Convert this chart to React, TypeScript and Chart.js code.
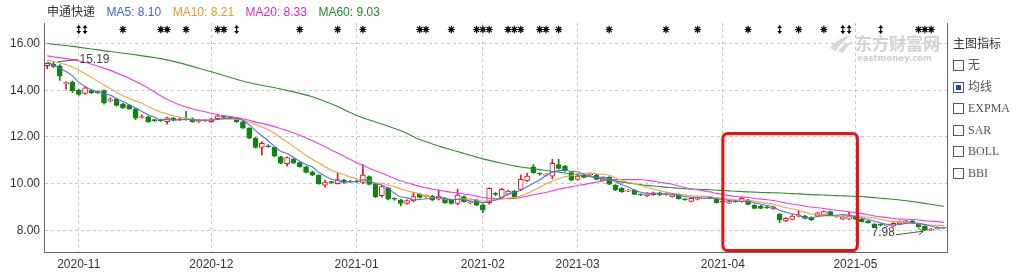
import React, { useEffect, useRef } from "react";
import { Chart, registerables } from "chart.js";

Chart.register(...registerables);

// ---------------- data ----------------
const stockName = "申通快递";
const monthKeys = ["2020-10", "2020-11", "2020-12", "2021-01", "2021-02", "2021-03", "2021-04", "2021-05"];
const monthDays = [
  [26, 27, 28, 29, 30],
  [2, 3, 4, 5, 6, 9, 10, 11, 12, 13, 16, 17, 18, 19, 20, 23, 24, 25, 26, 27, 30],
  [1, 2, 3, 4, 7, 8, 9, 10, 11, 14, 15, 16, 17, 18, 21, 22, 23, 24, 25, 28, 29, 30, 31],
  [4, 5, 6, 7, 8, 11, 12, 13, 14, 15, 18, 19, 20, 21, 22, 25, 26, 27, 28, 29],
  [1, 2, 3, 4, 5, 8, 9, 10, 18, 19, 22, 23, 24, 25, 26],
  [1, 2, 3, 4, 5, 8, 9, 10, 11, 12, 15, 16, 17, 18, 19, 22, 23, 24, 25, 26, 29, 30, 31],
  [1, 2, 6, 7, 8, 9, 12, 13, 14, 15, 16, 19, 20, 21, 22, 23, 26, 27, 28, 29, 30],
  [6, 7, 10, 11, 12, 13, 14, 17, 18, 19, 20, 21, 24, 25, 26],
];
const monthTickLabels = ["2020-11", "2020-12", "2021-01", "2021-02", "2021-03", "2021-04", "2021-05"];

const opens = [
  15.05, 15.12, 15.05, 14.28, 14.35, 14.0, 13.86, 13.98, 13.94, 13.98, 13.55, 13.62, 13.4, 13.35, 13.2, 12.83, 12.86, 12.72, 12.72, 12.65,
  12.8, 12.73, 12.77, 12.78, 12.66, 12.69, 12.65, 12.78, 12.89, 12.86, 12.8, 12.65, 12.38, 11.95, 11.55, 11.62, 11.55, 11.15, 10.85, 11.05,
  10.9, 10.72, 10.5, 10.36, 9.93, 10.07, 10.0, 10.15, 10.07, 10.1, 10.05, 10.3, 9.97, 9.48, 9.8, 9.36, 9.3, 9.15, 9.26, 9.54,
  9.45, 9.47, 9.33, 9.37, 9.3, 9.15, 9.44, 9.17, 9.3, 9.08, 9.18, 9.58, 9.41, 9.55, 9.68, 9.75, 10.12, 10.72, 10.42, 10.36,
  10.32, 10.82, 10.75, 10.47, 10.18, 10.37, 10.38, 10.37, 10.12, 10.27, 9.94, 9.8, 9.68, 9.72, 9.53, 9.47, 9.53, 9.61, 9.53, 9.44,
  9.52, 9.33, 9.24, 9.33, 9.39, 9.4, 9.33, 9.22, 9.16, 9.25, 9.23, 9.3, 9.08, 9.04, 8.99, 8.92, 8.68, 8.4, 8.47, 8.6,
  8.61, 8.55, 8.61, 8.65, 8.8, 8.6, 8.48, 8.48, 8.58, 8.48, 8.4, 8.27, 8.24, 8.19, 8.18, 8.27, 8.3, 8.4, 8.27, 8.18,
  8.0, 8.06, 8.1,
];
const highs = [
  15.16, 15.19, 15.1, 14.36, 14.4, 14.05, 14.14, 14.02, 13.98, 14.02, 13.68, 13.66, 13.44, 13.38, 13.24, 12.95, 12.9, 12.76, 12.76, 12.85,
  12.84, 12.8, 13.1, 12.82, 12.76, 12.74, 12.8, 12.95, 12.92, 12.88, 12.84, 12.68, 12.4, 11.98, 11.8, 11.66, 11.58, 11.18, 11.15, 11.08,
  10.93, 10.75, 10.54, 10.38, 10.14, 10.1, 10.46, 10.18, 10.14, 10.14, 10.8, 10.33, 10.0, 9.92, 9.84, 9.4, 9.33, 9.3, 9.61, 9.58,
  9.52, 9.5, 9.73, 9.4, 9.33, 9.76, 9.48, 9.24, 9.33, 9.12, 9.82, 9.62, 9.8, 9.72, 9.72, 10.37, 10.44, 10.82, 10.46, 10.42,
  11.04, 11.04, 10.78, 10.5, 10.36, 10.4, 10.45, 10.4, 10.25, 10.3, 9.96, 9.83, 9.75, 9.75, 9.56, 9.6, 9.64, 9.64, 9.6, 9.54,
  9.55, 9.36, 9.4, 9.43, 9.45, 9.44, 9.35, 9.26, 9.27, 9.28, 9.4, 9.33, 9.1, 9.07, 9.02, 9.04, 8.72, 8.54, 8.66, 8.87,
  8.64, 8.58, 8.78, 8.83, 8.82, 8.63, 8.61, 8.77, 8.62, 8.5, 8.42, 8.29, 8.27, 8.24, 8.33, 8.4, 8.43, 8.42, 8.29, 8.2,
  8.08, 8.14, 8.14,
];
const lows = [
  14.92, 14.98, 14.42, 14.05, 13.9, 13.78, 13.82, 13.86, 13.86, 13.4, 13.5, 13.32, 13.22, 13.18, 12.74, 12.8, 12.62, 12.66, 12.66, 12.55,
  12.68, 12.7, 12.72, 12.62, 12.62, 12.66, 12.62, 12.76, 12.8, 12.78, 12.62, 12.36, 11.92, 11.52, 11.22, 11.56, 11.15, 10.85, 10.75, 10.86,
  10.7, 10.46, 10.34, 9.97, 9.85, 10.0, 9.98, 10.01, 10.05, 10.04, 10.0, 9.95, 9.4, 9.42, 9.3, 9.28, 9.04, 9.12, 9.22, 9.38,
  9.42, 9.27, 9.3, 9.15, 9.12, 9.1, 9.2, 9.14, 9.05, 8.76, 9.12, 9.48, 9.38, 9.52, 9.38, 9.7, 10.08, 10.44, 10.36, 10.32,
  10.2, 10.62, 10.52, 10.12, 10.15, 10.24, 10.35, 10.16, 10.1, 9.95, 9.7, 9.62, 9.65, 9.52, 9.48, 9.45, 9.5, 9.48, 9.5, 9.42,
  9.33, 9.28, 9.22, 9.3, 9.36, 9.35, 9.16, 9.17, 9.14, 9.2, 9.2, 9.09, 8.92, 8.92, 8.94, 8.9, 8.33, 8.37, 8.45, 8.57,
  8.49, 8.42, 8.58, 8.62, 8.63, 8.55, 8.46, 8.45, 8.46, 8.35, 8.31, 8.11, 8.19, 8.16, 8.16, 8.25, 8.28, 8.28, 8.13, 7.98,
  7.99, 8.04, 8.07,
];
const closes = [
  15.15, 15.02, 14.6, 14.32, 13.98, 13.82, 14.1, 13.88, 13.9, 13.47, 13.6, 13.35, 13.25, 13.2, 12.8, 12.86, 12.65, 12.7, 12.7, 12.82,
  12.72, 12.76, 12.74, 12.65, 12.72, 12.71, 12.77, 12.9, 12.83, 12.8, 12.65, 12.38, 11.95, 11.55, 11.72, 11.58, 11.18, 10.87, 11.12, 10.88,
  10.72, 10.48, 10.36, 10.0, 10.07, 10.04, 10.17, 10.05, 10.1, 10.07, 10.37, 9.97, 9.44, 9.87, 9.33, 9.33, 9.15, 9.27, 9.44, 9.41,
  9.48, 9.3, 9.47, 9.18, 9.15, 9.51, 9.23, 9.2, 9.08, 8.87, 9.8, 9.54, 9.75, 9.68, 9.41, 10.18, 10.32, 10.47, 10.4, 10.39,
  10.87, 10.65, 10.55, 10.15, 10.32, 10.27, 10.41, 10.18, 10.2, 9.98, 9.72, 9.65, 9.71, 9.54, 9.51, 9.56, 9.6, 9.51, 9.56, 9.51,
  9.35, 9.31, 9.37, 9.41, 9.42, 9.38, 9.18, 9.2, 9.23, 9.23, 9.37, 9.11, 8.94, 8.94, 8.96, 9.01, 8.44, 8.51, 8.61, 8.65,
  8.51, 8.44, 8.75, 8.8, 8.65, 8.58, 8.58, 8.61, 8.48, 8.37, 8.33, 8.13, 8.22, 8.21, 8.3, 8.37, 8.4, 8.3, 8.15, 8.01,
  8.05, 8.12, 8.12,
];

const ma5EarlyIdx = [0];
const ma5EarlyVal = [15.22];
const ma10EarlyIdx = [0, 4];
const ma10EarlyVal = [15.3, 15.0];
const ma20EarlyIdx = [0, 5, 10, 15];
const ma20EarlyVal = [15.47, 15.26, 14.85, 14.25];
const ma60EarlyIdx = [0, 4, 8, 13, 19, 26, 32, 37, 42, 46, 49, 53, 57];
const ma60EarlyVal = [16.0, 15.88, 15.73, 15.55, 15.3, 14.79, 14.32, 14.05, 13.72, 13.3, 12.92, 12.55, 12.15];

const maNames = ["MA5", "MA10", "MA20", "MA60"];
const maLegendValues = ["8.10", "8.21", "8.33", "9.03"];

// event markers on top row (candle index, kind: s = star, a = arrow)
const markerIdx = [5, 6, 12, 18, 19, 22, 27, 28, 30, 40, 46, 50, 59, 60, 64, 68, 69, 70, 73, 74, 75, 78, 79, 81, 89, 98, 103, 111, 116, 119, 123, 126, 127, 132, 138, 139, 140];
const markerKind = ["a", "a", "s", "s", "s", "s", "s", "s", "a", "s", "s", "s", "s", "s", "s", "s", "s", "s", "s", "s", "s", "s", "s", "s", "s", "s", "s", "s", "a", "s", "s", "a", "a", "a", "s", "s", "s"];

const highlightFrom = "2021-04-01";
const highlightTo = "2021-05-06";
const highlightTop = 12.15;
const highlightBottom = 7.13;

const panelTitle = "主图指标";
const panelItems = ["无", "均线", "EXPMA", "SAR", "BOLL", "BBI"];
const panelChecked = "均线";

// ---------------- styles ----------------
const UP = "#e3171f";
const DOWN = "#11840f";
const MA_LINE_COLORS = ["#4f74e6", "#f0a43a", "#f03cf0", "#2f8f2f"];
const MA_TEXT_COLORS = ["#3d62dc", "#e79a22", "#e020e0", "#1e8c1e"];
const GRID = "#c8c8c8";
const AXIS = "#666";
const FONT = '"Liberation Sans", Arial, "Noto Sans CJK SC", sans-serif';

const dates: string[] = monthKeys.flatMap((m, k) => monthDays[k].map((d) => `${m}-${String(d).padStart(2, "0")}`));
const isMonthStart = (i: number) =>
  i >= 0 && i < dates.length && (i === 0 || dates[i].slice(0, 7) !== dates[i - 1].slice(0, 7)) && monthTickLabels.includes(dates[i].slice(0, 7));

function maSeries(period: number, earlyIdx: number[], earlyVal: number[]) {
  const pts: { x: string; y: number }[] = earlyIdx.map((i, k) => ({ x: dates[i], y: earlyVal[k] }));
  for (let i = period - 1; i < closes.length; i++) {
    let s = 0;
    for (let j = i - period + 1; j <= i; j++) s += closes[j];
    pts.push({ x: dates[i], y: s / period });
  }
  return pts;
}

function drawStar(ctx: CanvasRenderingContext2D, x: number, y: number) {
  ctx.save();
  ctx.strokeStyle = "#000";
  ctx.fillStyle = "#000";
  ctx.lineWidth = 1.2;
  ctx.beginPath();
  ctx.moveTo(x, y - 3.8);
  ctx.lineTo(x, y + 3.8);
  ctx.moveTo(x - 3.5, y);
  ctx.lineTo(x + 3.5, y);
  ctx.moveTo(x - 2.6, y - 2.6);
  ctx.lineTo(x + 2.6, y + 2.6);
  ctx.moveTo(x + 2.6, y - 2.6);
  ctx.lineTo(x - 2.6, y + 2.6);
  ctx.stroke();
  ctx.beginPath();
  ctx.arc(x, y, 1.9, 0, Math.PI * 2);
  ctx.fill();
  ctx.restore();
}

function drawArrowMark(ctx: CanvasRenderingContext2D, x: number, y: number) {
  ctx.save();
  ctx.strokeStyle = "#000";
  ctx.fillStyle = "#000";
  ctx.lineWidth = 1.2;
  ctx.beginPath();
  ctx.moveTo(x, y - 4);
  ctx.lineTo(x, y + 4);
  ctx.stroke();
  ctx.beginPath();
  ctx.moveTo(x - 2.5, y - 1.5);
  ctx.lineTo(x + 2.5, y - 1.5);
  ctx.lineTo(x, y - 4.2);
  ctx.closePath();
  ctx.fill();
  ctx.beginPath();
  ctx.moveTo(x - 2.5, y + 1.5);
  ctx.lineTo(x + 2.5, y + 1.5);
  ctx.lineTo(x, y + 4.2);
  ctx.closePath();
  ctx.fill();
  ctx.restore();
}

const decorPlugin = {
  id: "decor",
  beforeDatasetsDraw(chart: any) {
    const ctx: CanvasRenderingContext2D = chart.ctx;
    const { right, top } = chart.chartArea;
    // watermark
    ctx.save();
    const wx = right - 117;
    const wy = top + 12;
    ctx.fillStyle = "#d6d6d6";
    ctx.beginPath();
    ctx.moveTo(wx, wy + 13);
    ctx.quadraticCurveTo(wx + 8, wy + 2, wx + 22, wy);
    ctx.quadraticCurveTo(wx + 12, wy + 6, wx + 6, wy + 16);
    ctx.closePath();
    ctx.fill();
    ctx.beginPath();
    ctx.moveTo(wx + 8, wy + 16);
    ctx.quadraticCurveTo(wx + 14, wy + 8, wx + 24, wy + 6);
    ctx.quadraticCurveTo(wx + 17, wy + 11, wx + 13, wy + 18);
    ctx.closePath();
    ctx.fill();
    ctx.fillStyle = "#d2d2d2";
    ctx.font = 'bold 17px "Noto Sans CJK SC", sans-serif';
    ctx.textBaseline = "middle";
    ctx.textAlign = "left";
    ctx.fillText("东方财富网", wx + 25, wy + 9);
    ctx.font = 'bold 8.5px "DejaVu Sans", sans-serif';
    ctx.fillStyle = "#cfcfcf";
    ctx.fillText("eastmoney.com", wx + 27, wy + 24);
    ctx.restore();
  },
  afterDatasetsDraw(chart: any) {
    const ctx: CanvasRenderingContext2D = chart.ctx;
    const xs = chart.scales.x;
    const ys = chart.scales.y;
    const { right, top, bottom } = chart.chartArea;

    // right border
    ctx.save();
    ctx.strokeStyle = AXIS;
    ctx.lineWidth = 1;
    ctx.beginPath();
    ctx.moveTo(Math.round(right) + 0.5, top);
    ctx.lineTo(Math.round(right) + 0.5, bottom);
    ctx.stroke();
    ctx.restore();

    // top markers
    markerIdx.forEach((i, k) => {
      const x = xs.getPixelForValue(i);
      if (markerKind[k] === "a") drawArrowMark(ctx, x, top + 6.5);
      else drawStar(ctx, x, top + 6.5);
    });

    // max / min labels
    let maxI = 0;
    let minI = 0;
    highs.forEach((h, i) => {
      if (h > highs[maxI]) maxI = i;
    });
    lows.forEach((l, i) => {
      if (l < lows[minI]) minI = i;
    });
    ctx.save();
    ctx.strokeStyle = "#555";
    ctx.fillStyle = "#444";
    ctx.lineWidth = 1;
    ctx.font = `12px ${FONT}`;
    ctx.textBaseline = "middle";
    const mx = xs.getPixelForValue(maxI);
    const my = ys.getPixelForValue(highs[maxI]);
    ctx.beginPath();
    ctx.moveTo(mx + 4, my - 0.5);
    ctx.lineTo(mx + 24, my - 3);
    ctx.stroke();
    ctx.textAlign = "left";
    ctx.fillText(highs[maxI].toFixed(2), mx + 26, my - 2.5);

    const nx = xs.getPixelForValue(minI);
    const ny = ys.getPixelForValue(lows[minI]);
    ctx.beginPath();
    ctx.moveTo(nx - 29, ny + 4);
    ctx.lineTo(nx - 2, ny + 0.5);
    ctx.stroke();
    ctx.beginPath();
    ctx.moveTo(nx - 7, ny - 2.5);
    ctx.lineTo(nx - 1.5, ny + 0.5);
    ctx.lineTo(nx - 6, ny + 4);
    ctx.stroke();
    ctx.textAlign = "right";
    ctx.fillText(lows[minI].toFixed(2), nx - 30, ny + 2);
    ctx.restore();

    // highlight box
    const bx1 = xs.getPixelForValue(dates.indexOf(highlightFrom));
    const bx2 = xs.getPixelForValue(dates.indexOf(highlightTo)) + 2;
    const by1 = ys.getPixelForValue(highlightTop);
    const by2 = ys.getPixelForValue(highlightBottom);
    ctx.save();
    ctx.strokeStyle = "#ee1010";
    ctx.lineWidth = 3;
    ctx.beginPath();
    (ctx as any).roundRect(bx1, by1, bx2 - bx1, by2 - by1, 5);
    ctx.stroke();
    ctx.restore();
  },
  afterDraw(chart: any) {
    const ctx: CanvasRenderingContext2D = chart.ctx;
    ctx.save();
    ctx.textBaseline = "middle";
    ctx.textAlign = "left";
    ctx.font = `12px ${FONT}`;
    let x = 47;
    const y = 13;
    ctx.fillStyle = "#333";
    ctx.fillText(stockName, x, y);
    x += ctx.measureText(stockName).width + 11.5;
    maNames.forEach((n, k) => {
      const t = `${n}: ${maLegendValues[k]}`;
      ctx.fillStyle = MA_TEXT_COLORS[k];
      ctx.fillText(t, x, y);
      x += ctx.measureText(t).width + 11.5;
    });
    ctx.restore();
  },
};

export default function App() {
  const ref = useRef<HTMLCanvasElement>(null);

  useEffect(() => {
    const canvas = ref.current;
    if (!canvas) return;
    const up = closes.map((c, i) => c >= opens[i]);
    const maData = [
      maSeries(5, ma5EarlyIdx, ma5EarlyVal),
      maSeries(10, ma10EarlyIdx, ma10EarlyVal),
      maSeries(20, ma20EarlyIdx, ma20EarlyVal),
      maSeries(60, ma60EarlyIdx, ma60EarlyVal),
    ];
    const chart = new Chart(canvas, {
      type: "bar",
      data: {
        labels: dates,
        datasets: [
          {
            type: "bar",
            label: "wick",
            data: lows.map((l, i) => [l, highs[i]]) as any,
            backgroundColor: up.map((u) => (u ? UP : DOWN)),
            barThickness: 1,
            grouped: false,
            order: 3,
            minBarLength: 1,
          } as any,
          {
            type: "bar",
            label: "body",
            data: opens.map((o, i) => [o, closes[i]]) as any,
            backgroundColor: up.map((u) => (u ? "#ffffff" : DOWN)),
            borderColor: up.map((u) => (u ? UP : DOWN)),
            borderWidth: 1,
            borderSkipped: false,
            barThickness: 5,
            grouped: false,
            order: 2,
            minBarLength: 1,
          } as any,
          ...maData.map((d, k) => ({
            type: "line",
            label: maNames[k],
            data: d,
            xAxisID: "x",
            yAxisID: "y",
            borderColor: MA_LINE_COLORS[k],
            borderWidth: 1.1,
            pointRadius: 0,
            cubicInterpolationMode: "monotone",
            fill: false,
            order: 1,
          })) as any,
        ],
      },
      options: {
        responsive: false,
        animation: false,
        devicePixelRatio: 1,
        events: [],
        layout: { padding: { top: 23, right: 69, left: 0, bottom: 0 } },
        plugins: { legend: { display: false }, tooltip: { enabled: false } },
        scales: {
          x: {
            type: "category",
            offset: true,
            grid: {
              offset: false,
              drawTicks: false,
              color: (c: any) => (isMonthStart(c.index) ? GRID : "rgba(0,0,0,0)"),
            },
            border: { display: true, color: AXIS, dash: [3, 3] },
            ticks: {
              autoSkip: false,
              maxRotation: 0,
              minRotation: 0,
              padding: 5,
              color: "#333",
              font: { family: FONT, size: 12 },
              callback: (_v: any, i: number) => (isMonthStart(i) ? dates[i].slice(0, 7) : ""),
            },
            afterFit: (s: any) => {
              s.height = 23;
            },
          },
          y: {
            type: "linear",
            position: "left",
            min: 7.07,
            max: 16.88,
            grid: { color: GRID, drawTicks: false },
            border: { display: true, color: AXIS, dash: [3, 3] },
            ticks: {
              stepSize: 2,
              includeBounds: false,
              padding: 4,
              color: "#333",
              font: { family: FONT, size: 12 },
              callback: (v: any) => Number(v).toFixed(2),
            },
            afterFit: (s: any) => {
              s.width = 44;
            },
          },
        },
      } as any,
      plugins: [decorPlugin],
    });
    return () => chart.destroy();
  }, []);

  const rowTop = 60;
  const rowStep = 21.6;
  return (
    <div style={{ position: "absolute", left: 0, top: 0, width: 1016, height: 275, background: "#fff", overflow: "hidden" }}>
      <canvas ref={ref} width={1016} height={275} style={{ position: "absolute", left: 0, top: 0, width: 1016, height: 275 }} />
      <div
        style={{
          position: "absolute",
          left: 953,
          top: 35,
          fontFamily: '"Noto Sans CJK SC", sans-serif',
          fontSize: 12,
          lineHeight: "16px",
          color: "#333",
          whiteSpace: "nowrap",
        }}
      >
        {panelTitle}
      </div>
      {panelItems.map((t, k) => (
        <div key={t} style={{ position: "absolute", left: 953, top: rowTop + k * rowStep, height: 12, whiteSpace: "nowrap" }}>
          <div
            style={{
              position: "absolute",
              left: 0,
              top: 0,
              width: 9,
              height: 9,
              border: "1px solid #4b5874",
              background: "#fff",
            }}
          >
            {t === panelChecked && (
              <div style={{ position: "absolute", left: 2, top: 2, width: 5, height: 5, background: "#2c4a8c" }} />
            )}
          </div>
          <div
            style={{
              position: "absolute",
              left: 15,
              top: -3,
              fontFamily: '"Liberation Serif", "Noto Sans CJK SC", serif',
              fontSize: 12,
              lineHeight: "17px",
              color: "#555",
            }}
          >
            {t}
          </div>
        </div>
      ))}
    </div>
  );
}
